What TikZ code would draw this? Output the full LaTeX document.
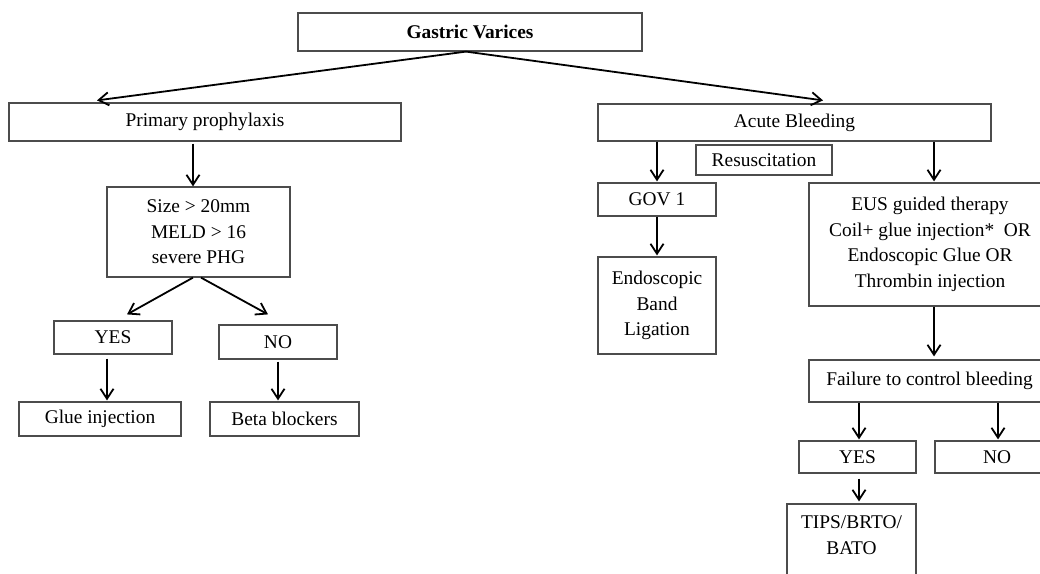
\documentclass[tikz,border=0pt]{standalone}
\usepackage{fontspec}
\setmainfont{Liberation Serif}
\usetikzlibrary{arrows.meta}

\begin{document}
\begin{tikzpicture}[x=1pt,y=-1pt,font=\fontsize{19.4}{25.5}\selectfont]
\tikzstyle{box}=[draw=black!70,line width=1.2pt,inner sep=0pt,align=center];
\tikzstyle{flow}=[-{Straight Barb[length=10pt,width=13pt]},line width=1.8pt];
\useasboundingbox (0,0) rectangle (1040,573);
\clip (0,0) rectangle (1040,573);

\node [box,minimum width=344pt,minimum height=38pt] (v1) at (470,32) {\textbf{Gastric Varices}};
\node [box,minimum width=392pt,minimum height=38pt] (v2) at (205,122) {Primary prophylaxis};
\node [box,minimum width=393pt,minimum height=37pt] (v3) at (794.5,122.5) {Acute Bleeding};

% primary prophylaxis side
\node [box,minimum width=183pt,minimum height=90pt] (v4) at (198.5,232) {Size > 20mm\\MELD > 16\\severe PHG};
\node [box,minimum width=118pt,minimum height=33pt] (v5) at (113,337.5) {YES};
\node [box,minimum width=118pt,minimum height=34pt] (v6) at (278,342) {NO};
\node [box,minimum width=162pt,minimum height=34pt] (v7) at (100,419) {Glue injection};
\node [box,minimum width=149pt,minimum height=34pt] (v8) at (284.5,419) {Beta blockers};

% acute bleeding side
\node [box,minimum width=136pt,minimum height=30pt] (v9) at (764,160) {Resuscitation};
\node [box,minimum width=118pt,minimum height=33pt] (v10) at (657,199.5) {GOV 1};
\node [box,minimum width=118pt,minimum height=97pt] (v11) at (657,305.5) {Endoscopic\\Band\\Ligation};
\node [box,minimum width=242pt,minimum height=123pt] (v12) at (930,244.5) {EUS guided therapy\\Coil+ glue injection*\ \ OR\\Endoscopic Glue OR\\Thrombin injection};
\node [box,minimum width=241pt,minimum height=42pt] (v13) at (929.5,381) {Failure to control bleeding};
\node [box,minimum width=117pt,minimum height=32pt] (v14) at (857.5,457) {YES};
\node [box,minimum width=124pt,minimum height=32pt] (v15) at (997,457) {NO};
\node [box,minimum width=129pt,minimum height=90pt] (v16) at (851.5,549) {\strut TIPS/BRTO/\\\strut BATO\\\strut};

\draw [flow] ([xshift=-4pt]v1.south) -- ([xshift=-108pt,yshift=2pt]v2.north);
\draw [flow] ([xshift=-4pt]v1.south) -- ([xshift=28.5pt,yshift=3pt]v3.north);
\draw [flow] ([xshift=-12pt,yshift=-2pt]v2.south) -- ([xshift=-5.5pt]v4.north);
\draw [flow] ([xshift=-5.5pt]v4.south) -- ([xshift=14pt,yshift=6pt]v5.north);
\draw [flow] ([xshift=2.5pt]v4.south) -- ([xshift=-10pt,yshift=10pt]v6.north);
\draw [flow] ([xshift=-6pt,yshift=-4pt]v5.south) -- ([xshift=7pt,yshift=1pt]v7.north);
\draw [flow] ([yshift=-2pt]v6.south) -- ([xshift=-6.5pt,yshift=1pt]v8.north);

\draw [flow] ([xshift=-137.5pt]v3.south) -- ([yshift=1pt]v10.north);
\draw [flow] ([xshift=139.5pt]v3.south) -- ([xshift=4pt,yshift=1pt]v12.north);
\draw [flow] (v10.south) -- ([yshift=1pt]v11.north);
\draw [flow] ([xshift=4pt]v12.south) -- ([xshift=4.5pt,yshift=3pt]v13.north);
\draw [flow] ([xshift=-70.5pt]v13.south) -- ([xshift=1.5pt,yshift=1pt]v14.north);
\draw [flow] ([xshift=68.5pt]v13.south) -- ([xshift=1pt,yshift=1pt]v15.north);
\draw [flow] ([xshift=1.5pt,yshift=-5pt]v14.south) -- ([xshift=7.5pt,yshift=2pt]v16.north);
\end{tikzpicture}
\end{document}
